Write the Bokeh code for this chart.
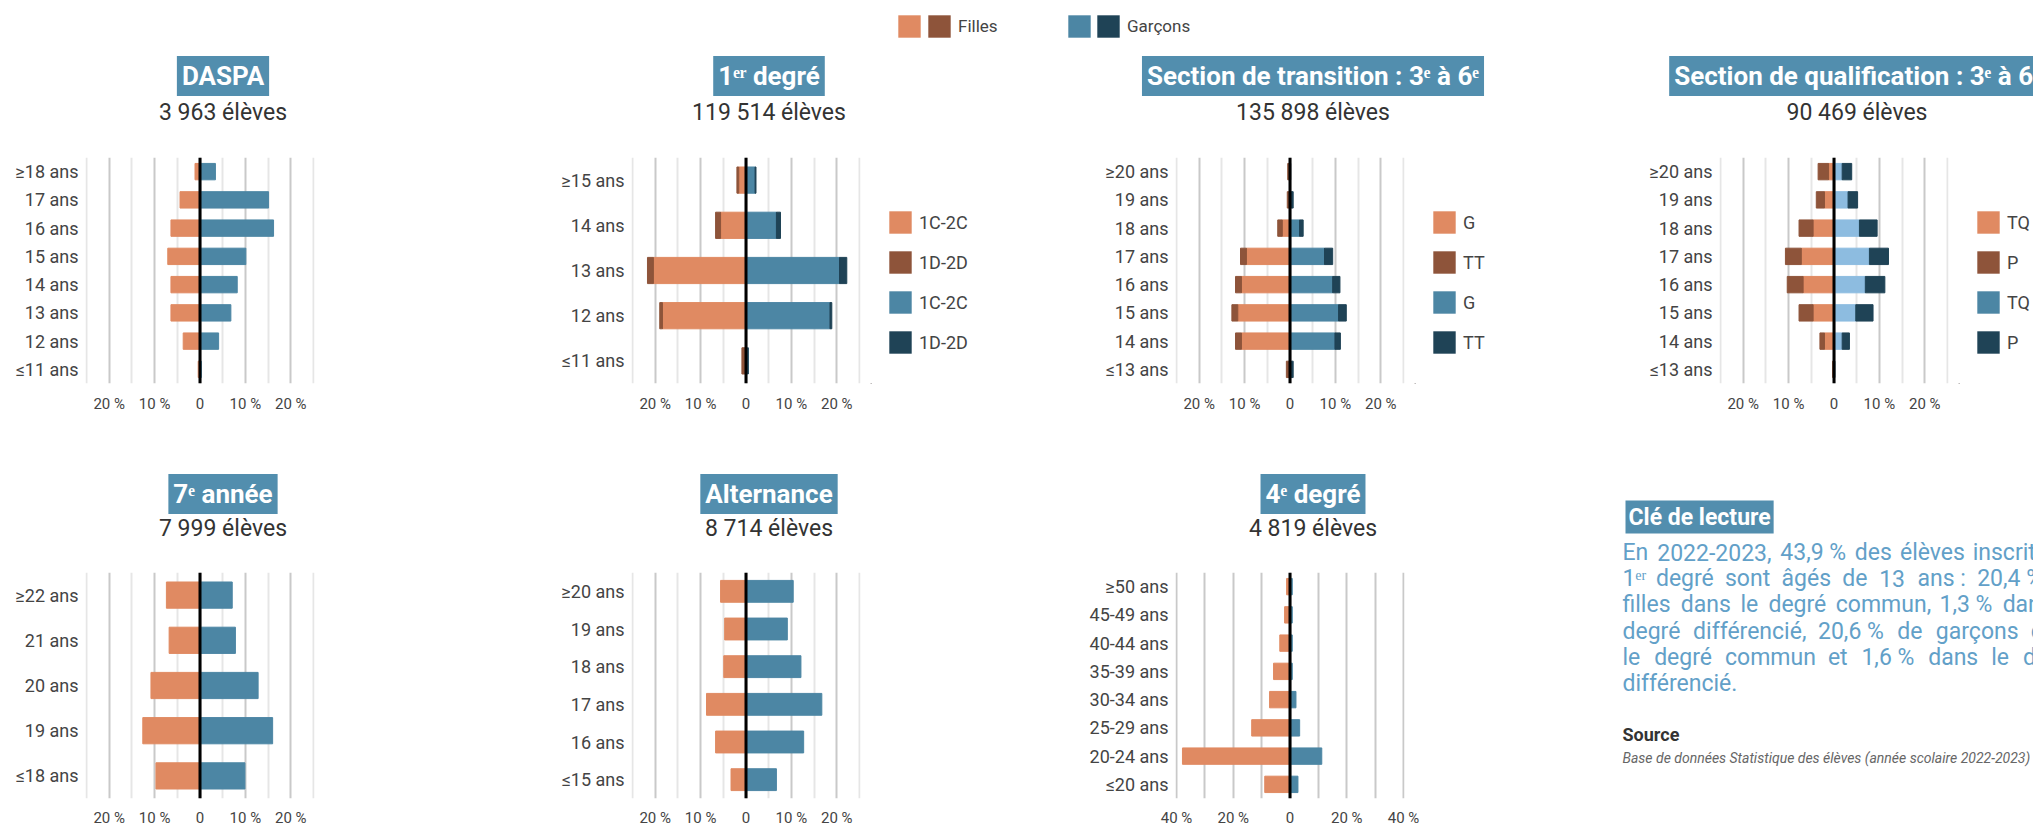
from bokeh.plotting import figure
from bokeh.models import (Range1d, FactorRange, FixedTicker, Span, Label, Legend,
                          LegendItem, ColumnDataSource)
from bokeh.layouts import column, row
from bokeh.embed import file_html
from bokeh.resources import INLINE

FONT = "Roboto"
ORANGE = "#E08A62"
BROWN = "#8E543A"
BLUE = "#4C86A4"
NAVY = "#1F4356"
LIGHTBLUE = "#8DBCE0"
TITLE_BG = "#528EAE"
TEXT = "#444444"

# ---------------- data ----------------
legend_top = ["Filles", "Garçons"]

daspa_title, daspa_sub = "DASPA", "3 963 élèves"
daspa_ages = ["≥18 ans", "17 ans", "16 ans", "15 ans", "14 ans", "13 ans", "12 ans", "≤11 ans"]
daspa_filles = [1.1, 4.4, 6.4, 7.1, 6.4, 6.4, 3.7, 0.4]
daspa_garcons = [3.4, 15.1, 16.2, 10.1, 8.2, 6.8, 4.1, 0.3]

deg1_title, deg1_sub = "1ᵉʳ degré", "119 514 élèves"
deg1_ages = ["≥15 ans", "14 ans", "13 ans", "12 ans", "≤11 ans"]
deg1_filles_comm = [1.6, 5.6, 20.4, 18.4, 0.1]
deg1_filles_diff = [0.4, 1.1, 1.3, 0.6, 0.8]
deg1_garcons_comm = [2.0, 6.7, 20.6, 18.5, 0.4]
deg1_garcons_diff = [0.2, 0.9, 1.6, 0.4, 0.1]
deg1_legend = ["1C-2C", "1D-2D", "1C-2C", "1D-2D"]

trans_title, trans_sub = "Section de transition : 3ᵉ à 6ᵉ", "135 898 élèves"
trans_ages = ["≥20 ans", "19 ans", "18 ans", "17 ans", "16 ans", "15 ans", "14 ans", "≤13 ans"]
trans_filles_G = [0.1, 0.1, 1.7, 9.6, 10.7, 11.5, 10.7, 0.2]
trans_filles_TT = [0.4, 0.5, 1.0, 1.3, 1.3, 1.3, 1.3, 0.6]
trans_garcons_G = [0.05, 0.1, 2.1, 7.6, 9.4, 10.7, 9.9, 0.3]
trans_garcons_TT = [0.1, 0.6, 0.8, 1.8, 1.6, 1.7, 1.2, 0.4]
trans_legend = ["G", "TT", "G", "TT"]

qual_title, qual_sub = "Section de qualification : 3ᵉ à 6ᵉ", "90 469 élèves"
qual_ages = ["≥20 ans", "19 ans", "18 ans", "17 ans", "16 ans", "15 ans", "14 ans", "≤13 ans"]
qual_filles_TQ = [1.2, 2.1, 4.6, 7.2, 6.8, 4.6, 2.1, 0.1]
qual_filles_P = [2.3, 1.8, 3.1, 3.5, 3.5, 3.1, 1.0, 0.2]
qual_garcons_TQ = [1.8, 3.1, 5.6, 7.8, 6.9, 4.8, 1.8, 0.1]
qual_garcons_P = [2.1, 2.1, 3.9, 4.2, 4.3, 3.8, 1.6, 0.1]
qual_legend = ["TQ", "P", "TQ", "P"]

sept_title, sept_sub = "7ᵉ année", "7 999 élèves"
sept_ages = ["≥22 ans", "21 ans", "20 ans", "19 ans", "≤18 ans"]
sept_filles = [7.4, 6.8, 10.8, 12.6, 9.7]
sept_garcons = [7.1, 7.8, 12.8, 16.0, 9.9]

alt_title, alt_sub = "Alternance", "8 714 élèves"
alt_ages = ["≥20 ans", "19 ans", "18 ans", "17 ans", "16 ans", "≤15 ans"]
alt_filles = [5.6, 4.7, 4.9, 8.7, 6.7, 3.3]
alt_garcons = [10.4, 9.1, 12.1, 16.7, 12.7, 6.7]

deg4_title, deg4_sub = "4ᵉ degré", "4 819 élèves"
deg4_ages = ["≥50 ans", "45-49 ans", "40-44 ans", "35-39 ans", "30-34 ans", "25-29 ans", "20-24 ans", "≤20 ans"]
deg4_filles = [1.2, 1.9, 3.6, 5.8, 7.2, 13.5, 37.9, 8.9]
deg4_garcons = [0.8, 0.8, 0.8, 0.8, 2.1, 3.4, 11.2, 2.8]

ticks_25 = [-20, -10, 0, 10, 20]
minor_25 = [-25, -15, -5, 5, 15, 25]
ticks_40 = [-40, -20, 0, 20, 40]
minor_40 = [-30, -10, 10, 30]

key_title = "Clé de lecture"
key_lines = [
    "En 2022-2023, 43,9 % des élèves inscrits au",
    "1ᵉʳ degré sont âgés de 13 ans : 20,4 % de",
    "filles dans le degré commun, 1,3 % dans le",
    "degré différencié, 20,6 % de garçons dans",
    "le degré commun et 1,6 % dans le degré",
    "différencié.",
]
source_title = "Source"
source_text = "Base de données Statistique des élèves (année scolaire 2022-2023)"

# ---------------- layout constants ----------------
PAGE_W = 2033
FW, FH = 229, 226
BT = 10
BB1, BB2 = 49, 28
H_STRIP, H_HEAD1, H_HEAD2 = 48, 99, 130
LEG_W = [176, 176, 75]


def blank(w, h, bt=0, bb=0):
    f = figure(frame_width=w, frame_height=h, x_range=Range1d(0, w), y_range=Range1d(0, h),
               min_border_left=0, min_border_right=0, min_border_top=bt, min_border_bottom=bb,
               x_axis_type=None, y_axis_type=None,
               output_backend="svg", toolbar_location=None, tools="")
    f.outline_line_color = None
    f.grid.visible = False
    f.background_fill_color = "white"
    f.border_fill_color = "white"
    return f


def legend_fig(width, labels, cols, bb):
    f = blank(width, FH, BT, bb)
    items = []
    for lab, c in zip(labels, cols):
        r = f.hbar(y=[-100], left=[0], right=[1], height=1, fill_color=c, line_color=None)
        items.append(LegendItem(label=lab, renderers=[r]))
    lg = Legend(items=items, location=(16, 27), orientation="vertical",
                glyph_width=28, glyph_height=28, label_height=28, label_width=0,
                label_standoff=5, spacing=12, padding=0, margin=0,
                border_line_color=None, background_fill_alpha=0,
                label_text_font=FONT, label_text_font_size="18px",
                label_text_color=TEXT)
    f.add_layout(lg)
    return f


def panel(ages, girls, boys, gcols, bcols, nominal, ticks, minor, bl, br, bb, standoff,
          all_dark=False):
    pxper = (FW - 2) / (2 * nominal)
    half = nominal + 1 / pxper
    p = figure(frame_width=FW, frame_height=FH,
               x_range=Range1d(-half, half),
               y_range=FactorRange(factors=ages[::-1]),
               min_border_left=bl, min_border_right=br,
               min_border_top=BT, min_border_bottom=bb,
               output_backend="svg", toolbar_location=None, tools="")
    p.outline_line_color = None
    p.background_fill_color = "white"
    p.border_fill_color = "white"

    data = {"age": ages}
    gk, bk = [], []
    for i, s in enumerate(girls):
        data[f"g{i}"] = [-v for v in s]
        gk.append(f"g{i}")
    for i, s in enumerate(boys):
        data[f"b{i}"] = list(s)
        bk.append(f"b{i}")
    src = ColumnDataSource(data)
    p.hbar_stack(gk, y="age", height=0.58, color=gcols, source=src)
    p.hbar_stack(bk, y="age", height=0.58, color=bcols, source=src)

    p.xaxis.ticker = FixedTicker(ticks=ticks, minor_ticks=minor)
    p.xaxis.major_label_overrides = {t: (f"{abs(t)} %" if t else "0") for t in ticks}
    for ax in (p.xaxis, p.yaxis):
        ax.axis_line_color = None
        ax.major_tick_line_color = None
        ax.minor_tick_line_color = None
        ax.major_tick_out = 0
        ax.major_tick_in = 0
        ax.minor_tick_out = 0
        ax.minor_tick_in = 0
        ax.major_label_text_font = FONT
        ax.major_label_text_color = TEXT
    p.xaxis.major_label_text_font_size = "15px"
    p.xaxis.major_label_standoff = standoff
    p.yaxis.major_label_text_font_size = "18px"
    p.yaxis.major_label_standoff = 7

    p.ygrid.grid_line_color = None
    p.xgrid.grid_line_color = "#c9c9c9"
    p.xgrid.grid_line_width = 2
    p.xgrid.minor_grid_line_color = "#c9c9c9" if all_dark else "#e6e6e6"
    p.xgrid.minor_grid_line_width = 2

    p.add_layout(Span(location=0, dimension="height", line_color="black", line_width=3))
    return p


def add_titles(head, h, centers, titles, subs, title_y, sub_y):
    for cx, t, s in zip(centers, titles, subs):
        head.add_layout(Label(x=cx, y=h - title_y, text=t, text_align="center",
                              text_baseline="middle", text_font=FONT, text_font_size="26px",
                              text_font_style="bold", text_color="white",
                              background_fill_color=TITLE_BG, padding=5))
        head.add_layout(Label(x=cx, y=h - sub_y, text=s, text_align="center",
                              text_baseline="middle", text_font=FONT, text_font_size="23px",
                              text_color="#333333"))


# ---------------- row 1 ----------------
p1 = panel(daspa_ages, [daspa_filles], [daspa_garcons], [ORANGE], [BLUE],
           25, ticks_25, minor_25, 85, 188, BB1, 11)
p2 = panel(deg1_ages, [deg1_filles_comm, deg1_filles_diff], [deg1_garcons_comm, deg1_garcons_diff],
           [ORANGE, BROWN], [BLUE, NAVY], 25, ticks_25, minor_25, 129, 10, BB1, 11)
l2 = legend_fig(LEG_W[0], deg1_legend, [ORANGE, BROWN, BLUE, NAVY], BB1)
p3 = panel(trans_ages, [trans_filles_G, trans_filles_TT], [trans_garcons_G, trans_garcons_TT],
           [ORANGE, BROWN], [BLUE, NAVY], 25, ticks_25, minor_25, 129, 10, BB1, 11)
l3 = legend_fig(LEG_W[1], trans_legend, [ORANGE, BROWN, BLUE, NAVY], BB1)
p4 = panel(qual_ages, [qual_filles_TQ, qual_filles_P], [qual_garcons_TQ, qual_garcons_P],
           [ORANGE, BROWN], [LIGHTBLUE, NAVY], 25, ticks_25, minor_25, 129, 10, BB1, 11)
l4 = legend_fig(LEG_W[2], qual_legend, [ORANGE, BROWN, BLUE, NAVY], BB1)

x0_1 = 85 + FW / 2
x0_2 = 502 + 129 + FW / 2
x0_3 = 502 + 544 + 129 + FW / 2
x0_4 = 502 + 544 + 544 + 129 + FW / 2
centers = [x0_1 + 23, x0_2 + 23, x0_3 + 23, x0_4 + 23]

head1 = blank(PAGE_W, H_HEAD1)
add_titles(head1, H_HEAD1, centers, [daspa_title, deg1_title, trans_title, qual_title],
           [daspa_sub, deg1_sub, trans_sub, qual_sub], 75.5 - H_STRIP, 112 - H_STRIP)

# ---------------- row 2 ----------------
p5 = panel(sept_ages, [sept_filles], [sept_garcons], [ORANGE], [BLUE],
           25, ticks_25, minor_25, 85, 188, BB2, 10)
p6 = panel(alt_ages, [alt_filles], [alt_garcons], [ORANGE], [BLUE],
           25, ticks_25, minor_25, 129, 186, BB2, 10)
p7 = panel(deg4_ages, [deg4_filles], [deg4_garcons], [ORANGE], [BLUE],
           40, ticks_40, minor_40, 129, 186, BB2, 10, all_dark=True)

row2_top = H_STRIP + H_HEAD1 + BT + FH + BB1
head2 = blank(1590, H_HEAD2)
add_titles(head2, H_HEAD2, centers[:3], [sept_title, alt_title, deg4_title],
           [sept_sub, alt_sub, deg4_sub], 493.5 - row2_top, 528 - row2_top)

# ---------------- reading key (justified paragraph) ----------------
KW = PAGE_W - 1590
KH = H_HEAD2 + BT + FH + BB2
key = blank(KW, KH)


def ky(page_y):
    return (row2_top + KH) - page_y


# approximate Roboto advance widths (em) used to justify the paragraph
CW = {" ": .248, "a": .53, "b": .55, "c": .51, "d": .55, "e": .517, "f": .339, "g": .547,
      "h": .537, "i": .237, "j": .237, "k": .5, "l": .237, "m": .855, "n": .538, "o": .556,
      "p": .55, "q": .55, "r": .33, "s": .504, "t": .32, "u": .537, "v": .472, "w": .74,
      "x": .49, "y": .47, "z": .49, "é": .517, "è": .517, "â": .53, "ç": .51, "E": .575,
      ",": .192, ".": .257, ":": .236, "%": .716, "-": .27, "ᵉ": .2, "ʳ": .15}


def text_w(s, size):
    return sum(CW.get(ch, .5615) for ch in s) * size


PARA_SIZE = 23
PARA_X, PARA_W = 32, 457
PARA_COLOR = "#62A0C8"
for i, line in enumerate(key_lines):
    y = ky(552 + i * 26.2)
    words = line.replace(" %", "\u00a0%").replace(" :", "\u00a0:").split(" ")
    words = [w.replace("\u00a0", " ") for w in words]
    last = i == len(key_lines) - 1
    widths = [text_w(w, PARA_SIZE) for w in words]
    if last or len(words) < 2:
        gap = CW[" "] * PARA_SIZE
    else:
        gap = (PARA_W - sum(widths)) / (len(words) - 1)
    x = PARA_X
    for w, wd in zip(words, widths):
        key.add_layout(Label(x=x, y=y, text=w, text_align="left", text_baseline="middle",
                             text_font=FONT, text_font_size=f"{PARA_SIZE}px",
                             text_color=PARA_COLOR))
        x += wd + gap

key.add_layout(Label(x=35, y=ky(516.5), text=key_title, text_align="left", text_baseline="middle",
                     text_font=FONT, text_font_size="23px", text_font_style="bold",
                     text_color="white", background_fill_color=TITLE_BG, padding=3))
key.add_layout(Label(x=32, y=ky(734), text=source_title, text_align="left", text_baseline="middle",
                     text_font=FONT, text_font_size="18px", text_font_style="bold",
                     text_color="#333333"))
key.add_layout(Label(x=32, y=ky(757), text=source_text, text_align="left", text_baseline="middle",
                     text_font=FONT, text_font_size="14px", text_font_style="italic",
                     text_color="#666666"))

# ---------------- top legend strip ----------------
strip = blank(PAGE_W, H_STRIP)
top_items = [("", ORANGE, 895), (legend_top[0], BROWN, 925),
             ("", BLUE, 1065), (legend_top[1], NAVY, 1094)]
for lab, c, xloc in top_items:
    r = strip.hbar(y=[-100], left=[0], right=[1], height=1, fill_color=c, line_color=None)
    lg = Legend(items=[LegendItem(label=lab, renderers=[r])], location=(xloc, 8),
                glyph_width=28, glyph_height=28, label_height=28, label_width=0,
                label_standoff=5, padding=0, margin=0, border_line_color=None,
                background_fill_alpha=0, label_text_font=FONT, label_text_font_size="17px",
                label_text_color=TEXT)
    strip.add_layout(lg)

layout = column(
    strip,
    head1,
    row(p1, p2, l2, p3, l3, p4, l4),
    row(column(head2, row(p5, p6, p7)), key),
)

open("out.html", "w").write(file_html(layout, INLINE))
